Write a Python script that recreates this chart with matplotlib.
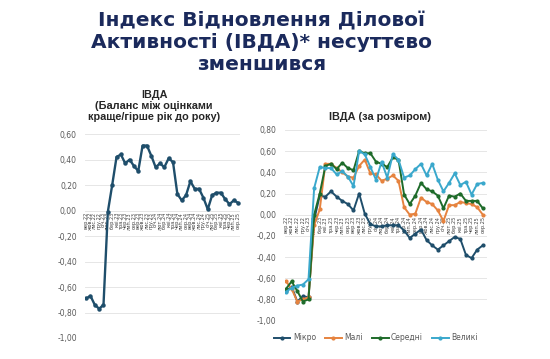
import matplotlib
matplotlib.use("Agg")
import matplotlib.pyplot as plt
from matplotlib.ticker import FuncFormatter

# Підписи періодів (місяці)
months = ["січ", "лют", "бер", "кві", "тра", "чер", "лип", "сер", "вер", "жов", "лис", "гру"]
periods = []
for k in range(36):
    m = (8 + k) % 12
    y = 22 + (8 + k) // 12
    periods.append(f"{months[m]}.{y}")

# ІВДА загальний
ivda = [-0.69, -0.67, -0.74, -0.77, -0.74, -0.01, 0.20, 0.42, 0.44, 0.37,
        0.40, 0.35, 0.31, 0.51, 0.51, 0.43, 0.34, 0.37, 0.34, 0.41,
        0.38, 0.13, 0.08, 0.12, 0.23, 0.17, 0.17, 0.10, 0.01, 0.12,
        0.14, 0.14, 0.09, 0.05, 0.08, 0.06]

# ІВДА за розміром
mikro = [-0.72, -0.68, -0.82, -0.77, -0.78, -0.05, 0.18, 0.17, 0.22, 0.17,
         0.13, 0.10, 0.04, 0.20, 0.01, -0.09, -0.11, -0.11, -0.10, -0.10,
         -0.10, -0.15, -0.22, -0.18, -0.14, -0.24, -0.29, -0.33, -0.29, -0.25,
         -0.21, -0.23, -0.38, -0.41, -0.33, -0.29]
mali = [-0.63, -0.70, -0.82, -0.80, -0.78, -0.10, 0.05, 0.48, 0.48, 0.44,
        0.40, 0.36, 0.35, 0.46, 0.52, 0.39, 0.38, 0.32, 0.34, 0.37,
        0.32, 0.07, 0.00, 0.01, 0.16, 0.12, 0.10, 0.04, -0.06, 0.09,
        0.09, 0.12, 0.11, 0.10, 0.07, 0.00]
seredni = [-0.70, -0.63, -0.72, -0.82, -0.80, 0.00, 0.20, 0.46, 0.48, 0.43,
           0.49, 0.44, 0.42, 0.60, 0.58, 0.58, 0.50, 0.48, 0.45, 0.54,
           0.52, 0.19, 0.10, 0.18, 0.30, 0.24, 0.22, 0.18, 0.06, 0.18,
           0.17, 0.20, 0.13, 0.13, 0.13, 0.06]
velyki = [-0.73, -0.69, -0.67, -0.66, -0.61, 0.25, 0.45, 0.44, 0.44, 0.38,
          0.41, 0.36, 0.27, 0.60, 0.57, 0.45, 0.33, 0.50, 0.35, 0.57,
          0.52, 0.35, 0.37, 0.43, 0.48, 0.37, 0.48, 0.33, 0.22, 0.30,
          0.39, 0.28, 0.31, 0.19, 0.29, 0.30]

grey = "#595959"
fmt = FuncFormatter(lambda v, p: f"{v:.2f}".replace(".", ","))


def style_axis(ax, ymin, ymax):
    ax.set_ylim(ymin, ymax)
    ax.set_yticks([round(ymin + 0.2 * i, 2) for i in range(int(round((ymax - ymin) / 0.2)) + 1)])
    ax.yaxis.set_major_formatter(fmt)
    ax.grid(axis="y", color="#e6e6e6", linewidth=0.7)
    ax.set_axisbelow(True)
    for s in ["top", "right", "left"]:
        ax.spines[s].set_visible(False)
    ax.spines["bottom"].set_position(("data", 0))
    ax.spines["bottom"].set_visible(False)
    ax.set_xticks(range(len(periods)))
    ax.set_xticklabels(periods, rotation=90, fontsize=3.6, color="#404040")
    ax.tick_params(axis="x", length=0, pad=1)
    ax.tick_params(axis="y", length=0, labelsize=5.5, labelcolor=grey, pad=6)


fig = plt.figure(figsize=(5.5, 3.59), dpi=100)

fig.text(0.476, 0.968, "Індекс Відновлення Ділової\nАктивності (ІВДА)* несуттєво\nзменшився",
         ha="center", va="top", fontsize=14.5, fontweight="bold", color="#1b2a5c",
         linespacing=1.18)

x = list(range(len(periods)))

ax1 = fig.add_axes([0.155, 0.0585, 0.282, 0.568])
ax1.plot(x, ivda, color="#1f4e6b", linewidth=1.7, marker="o", markersize=2.2)
ax1.set_xlim(-0.2, 35.5)
style_axis(ax1, -1.0, 0.6)
fig.text(0.28, 0.748, "ІВДА\n(Баланс між оцінками\nкраще/гірше рік до року)",
         ha="center", va="top", fontsize=7.8, fontweight="bold",
         family="Liberation Sans", color="#262626", linespacing=1.1)

ax2 = fig.add_axes([0.518, 0.107, 0.367, 0.531])
ax2.plot(x, mikro, color="#1f4e6b", linewidth=1.4, marker="o", markersize=2, label="Мікро")
ax2.plot(x, mali, color="#e6833f", linewidth=1.4, marker="o", markersize=2, label="Малі")
ax2.plot(x, seredni, color="#1e6b2a", linewidth=1.4, marker="o", markersize=2, label="Середні")
ax2.plot(x, velyki, color="#3aa8cc", linewidth=1.4, marker="o", markersize=2, label="Великі")
ax2.set_xlim(-0.2, 35.7)
style_axis(ax2, -1.0, 0.8)
fig.text(0.69, 0.674, "ІВДА (за розміром)", ha="center", va="center", fontsize=7.8,
         fontweight="bold", family="Liberation Sans", color="#262626")
ax2.legend(loc="upper center", bbox_to_anchor=(0.45, -0.03), ncol=4, frameon=False,
           fontsize=5.5, labelcolor=grey, handlelength=2.2, handletextpad=0.3,
           columnspacing=1.2)

fig.savefig("out.png", dpi=100)
